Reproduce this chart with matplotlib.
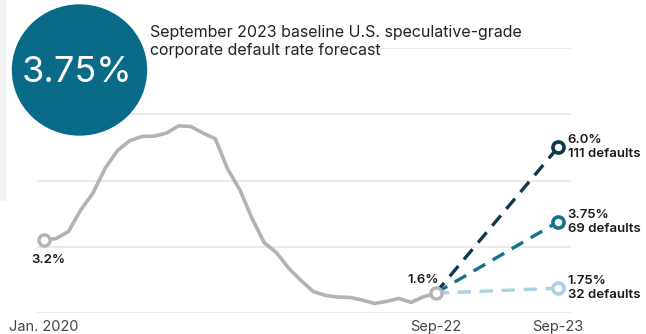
import numpy as np
import matplotlib
matplotlib.use("Agg")
import matplotlib.pyplot as plt
from matplotlib.patches import Ellipse, Rectangle

plt.rcParams['font.family'] = ['Inter', 'DejaVu Sans']

# monthly default rate, Jan. 2020 .. Sep-22 (%)
history = [3.2, 3.25, 3.46, 4.11, 4.62, 5.37, 5.90, 6.20, 6.33, 6.34, 6.43,
           6.65, 6.63, 6.43, 6.26, 5.35, 4.72, 3.86, 3.12, 2.82, 2.35, 1.98,
           1.65, 1.53, 1.48, 1.47, 1.39, 1.29, 1.35, 1.44, 1.32, 1.49, 1.6]
history_x = np.arange(len(history))
forecast_x = 42  # Sep-23 slot on the axis

scenarios = [6.0, 3.75, 1.75]
scenario_labels = ['6.0%', '3.75%', '1.75%']
scenario_defaults = [111, 69, 32]
scenario_colors = ['#0c3a4a', '#17718d', '#a9d3df']

tick_pos = [0, 32, 42]
tick_labels = ['Jan. 2020', 'Sep-22', 'Sep-23']

fig = plt.figure(figsize=(6.46, 3.34), dpi=100)
ax = fig.add_axes([37 / 646, 1 - 313 / 334, 534 / 646, 265 / 334])

# faint side panel
fig.add_artist(Rectangle((0, 1 - 200 / 334), 5 / 646, 200 / 334,
                         transform=fig.transFigure, color='#f2f2f2', zorder=0))

ax.plot(history_x, history, color='#b3b3b3', lw=2.6, zorder=3,
        solid_joinstyle='round', clip_on=False)
ax.plot(history_x[[0, -1]], [history[0], history[-1]], 'o', ms=8, mfc='white',
        mec='#b3b3b3', mew=2.4, zorder=5, clip_on=False)

for val, lab, n, col in zip(scenarios, scenario_labels, scenario_defaults, scenario_colors):
    ax.plot([history_x[-1], forecast_x], [history[-1], val], color=col, lw=2.4,
            dashes=(4, 2.6), zorder=4, clip_on=False)
    ax.plot(forecast_x, val, 'o', ms=8, mfc='white', mec=col, mew=2.6,
            zorder=6, clip_on=False)
    ax.annotate(f'{lab}\n{n} defaults', (forecast_x, val), xytext=(7, 0),
                textcoords='offset points', ha='left', va='center',
                fontsize=9.5, fontweight='semibold', color='#1a1a1a',
                linespacing=1.2)

ax.annotate(f'{history[0]}%', (history_x[0], history[0]), xytext=(3, -14),
            textcoords='offset points', ha='center', va='center', fontsize=9.5,
            fontweight='semibold', color='#1a1a1a')
ax.annotate(f'{history[-1]}%', (history_x[-1], history[-1]), xytext=(-9, 9.5),
            textcoords='offset points', ha='center', va='center', fontsize=9.5,
            fontweight='semibold', color='#1a1a1a')

ax.set_xlim(-7 / 12.238, 42 + 13 / 12.238)
ax.set_ylim(1, 9)
ax.set_yticks([1, 3, 5, 7, 9])
ax.set_yticklabels([])
ax.grid(axis='y', color='#e8e8e8', lw=1.3)
ax.set_axisbelow(True)
ax.set_xticks(tick_pos)
ax.set_xticklabels(tick_labels, fontsize=10.5, color='#444444')
ax.tick_params(length=0, pad=5)
ax.tick_params(axis='y', left=False)
for s in ax.spines.values():
    s.set_visible(False)

# headline bubble
fig.add_artist(Ellipse((79.5 / 646, 1 - 70 / 334), 134 / 646, 130 / 334,
                       transform=fig.transFigure, color='#0a6b88', zorder=10))
fig.text(77 / 646, 1 - 72 / 334, '3.75%', color='white', fontsize=26,
         ha='center', va='center', zorder=11)

fig.text(150 / 646, 1 - 42 / 334,
         'September 2023 baseline U.S. speculative-grade\ncorporate default rate forecast',
         fontsize=11.5, color='#222222', ha='left', va='center', linespacing=1.25)

fig.savefig('out.png', dpi=100)
